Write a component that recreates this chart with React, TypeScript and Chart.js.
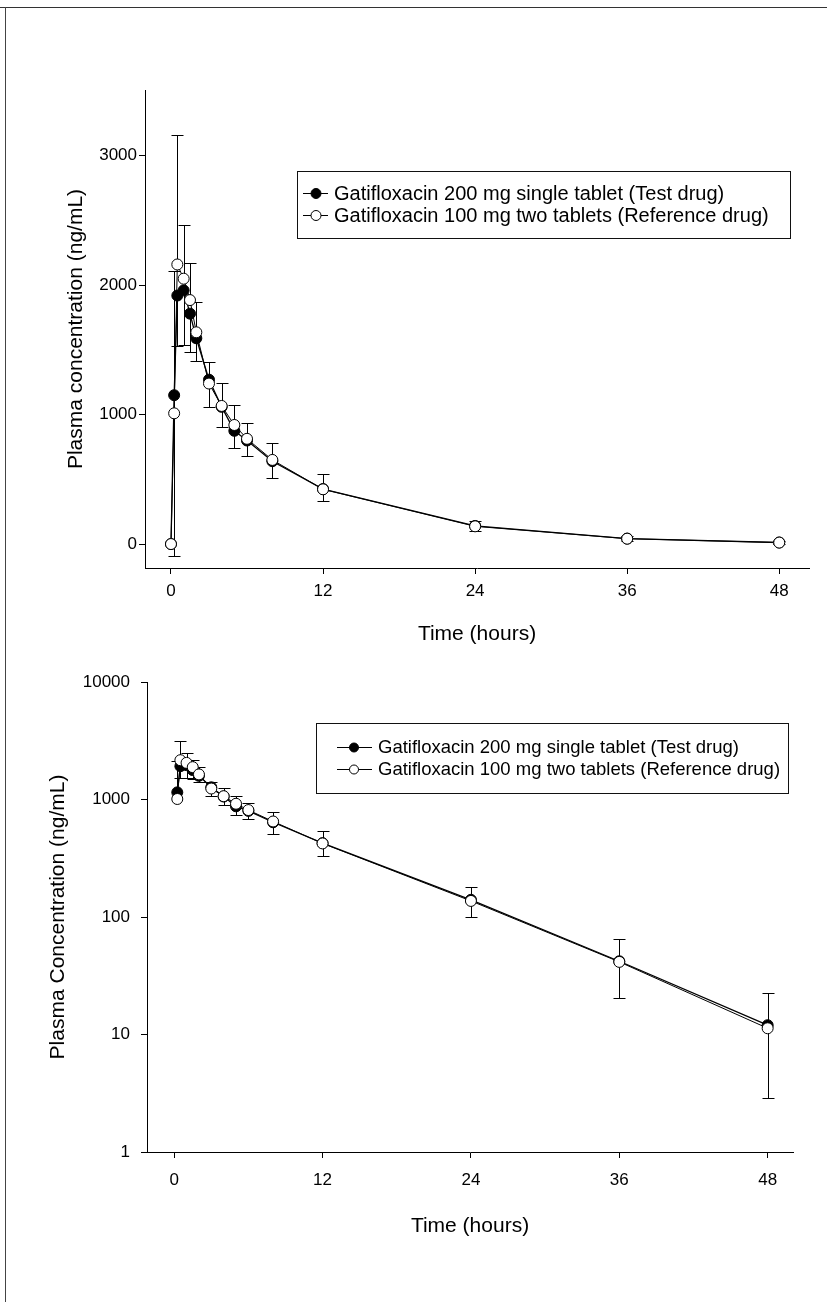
import React, { useEffect, useRef } from "react";
import { Chart, registerables } from "chart.js";

Chart.register(...registerables);

// ---------- data ----------
const times = [0, 0.25, 0.5, 1, 1.5, 2, 3, 4, 5, 6, 8, 12, 24, 36, 48];

const testMean = [0, 1150, 1920, 1960, 1780, 1590, 1270, 1060, 875, 800, 640, 425, 140, 42, 12];
const testErrUp = [0, 0, 0, 0, 0, 0, 0, 0, 0, 0, 0, 0, 0, 0, 0];
const testErrDown = [0, 0, 390, 424, 296, 173, 0, 0, 0, 0, 0, 0, 0, 0, 0];

const refMean = [0, 1010, 2160, 2050, 1885, 1636, 1240, 1067, 920, 813, 650, 423, 137, 41.5, 11.3];
const refErrUp = [0, 1100, 1000, 415, 290, 237, 165, 175, 155, 123, 128, 116, 43, 23, 11.3];
const refErrDown = [0, 1100, 0, 0, 0, 0, 178, 165, 177, 135, 139, 93, 37, 21, 8.4];

const xTicks = [0, 12, 24, 36, 48];
const yTicksLinear = [0, 1000, 2000, 3000];
const yTicksLog = [1, 10, 100, 1000, 10000];

const labelTest = "Gatifloxacin 200 mg single tablet (Test drug)";
const labelRef = "Gatifloxacin 100 mg two tablets (Reference drug)";

const FONT = "'Liberation Sans', Arial, Helvetica, sans-serif";

// ---------- plugins ----------
const errorBarPlugin = {
  id: "errorBars",
  beforeDatasetsDraw(chart: any) {
    const ctx = chart.ctx;
    const xs = chart.scales.x;
    const ys = chart.scales.y;
    const isLog = ys.type === "logarithmic";
    const cap = 6;
    ctx.save();
    ctx.strokeStyle = "#000";
    ctx.lineWidth = 1;
    chart.data.datasets.forEach((ds: any) => {
      const up = ds.errUp || [];
      const down = ds.errDown || [];
      ds.data.forEach((p: any, i: number) => {
        if (p.y == null) return;
        const px = Math.round(xs.getPixelForValue(p.x)) + 0.5;
        const py = ys.getPixelForValue(p.y);
        if (up[i] > 0) {
          const pu = Math.round(ys.getPixelForValue(p.y + up[i])) + 0.5;
          ctx.beginPath();
          ctx.moveTo(px, py);
          ctx.lineTo(px, pu);
          ctx.moveTo(px - cap, pu);
          ctx.lineTo(px + cap, pu);
          ctx.stroke();
        }
        if (down[i] > 0 && (!isLog || p.y - down[i] > 0)) {
          const pd = Math.round(ys.getPixelForValue(p.y - down[i])) + 0.5;
          ctx.beginPath();
          ctx.moveTo(px, py);
          ctx.lineTo(px, pd);
          ctx.moveTo(px - cap, pd);
          ctx.lineTo(px + cap, pd);
          ctx.stroke();
        }
      });
    });
    ctx.restore();
  },
};

const boxLegendPlugin = {
  id: "boxLegend",
  afterDraw(chart: any, _args: any, opts: any) {
    if (!opts || !opts.box) return;
    const ctx = chart.ctx;
    const b = opts.box;
    ctx.save();
    ctx.fillStyle = "#fff";
    ctx.fillRect(b.x, b.y, b.w, b.h);
    ctx.strokeStyle = "#111";
    ctx.lineWidth = 1;
    ctx.strokeRect(b.x + 0.5, b.y + 0.5, b.w, b.h);
    const order = opts.order as number[];
    order.forEach((di: number, row: number) => {
      const ds = chart.data.datasets[di];
      const y = opts.rowY[row] - b.y + b.y;
      ctx.strokeStyle = "#000";
      ctx.lineWidth = 1;
      ctx.beginPath();
      ctx.moveTo(opts.lineX1, y + 0.5);
      ctx.lineTo(opts.lineX2, y + 0.5);
      ctx.stroke();
      ctx.beginPath();
      ctx.arc(opts.markerX, y + 0.5, opts.markerR, 0, Math.PI * 2);
      ctx.fillStyle = ds.pointBackgroundColor;
      ctx.fill();
      ctx.stroke();
      ctx.fillStyle = "#000";
      ctx.font = `${opts.fontSize}px ${FONT}`;
      ctx.textAlign = "left";
      ctx.textBaseline = "middle";
      ctx.fillText(ds.label, opts.textX, y + 1);
    });
    ctx.restore();
  },
};

function makeDatasets(log: boolean) {
  const toPts = (arr: number[]) =>
    times.map((t, i) => ({ x: t, y: log && arr[i] <= 0 ? null : arr[i] }));
  return [
    {
      label: labelTest,
      data: toPts(testMean),
      errUp: testErrUp,
      errDown: testErrDown,
      borderColor: "#000",
      borderWidth: 1.3,
      pointRadius: 5.5,
      pointBackgroundColor: "#000",
      pointBorderColor: "#000",
      pointBorderWidth: 1,
      tension: 0,
      order: 2,
      spanGaps: true,
    },
    {
      label: labelRef,
      data: toPts(refMean),
      errUp: refErrUp,
      errDown: refErrDown,
      borderColor: "#000",
      borderWidth: 1,
      pointRadius: 5.5,
      pointBackgroundColor: "#fff",
      pointBorderColor: "#000",
      pointBorderWidth: 1,
      tension: 0,
      order: 1,
      spanGaps: true,
    },
  ];
}

function axisCommon() {
  return {
    grid: {
      display: true,
      drawOnChartArea: false,
      drawTicks: true,
      tickLength: 6,
      color: "#000",
      lineWidth: 1,
    },
    border: { display: true, color: "#000", width: 1 },
  };
}

interface Cfg {
  log: boolean;
  height: number;
  area: { left: number; right: number; top: number; bottom: number };
  xMin: number;
  xMax: number;
  yMin: number;
  yMax: number;
  yTitle: string;
  yTitleX: number;
  xLabelY: number;
  xTitleY: number;
  yLabelRight: number;
  legend: any;
}

function PKChart({ cfg }: { cfg: Cfg }) {
  const ref = useRef<HTMLCanvasElement | null>(null);
  useEffect(() => {
    if (!ref.current) return;
    const W = 827;
    const H = cfg.height;
    const a = cfg.area;
    const xAxisH = H - a.bottom;
    const tickFont = 17;
    const titleFont = 21;
    const titleLH = titleFont * 1.2;
    const tickLH = tickFont * 1.2;
    const chart = new Chart(ref.current, {
      type: "line",
      data: { datasets: makeDatasets(cfg.log) as any },
      options: {
        animation: false,
        responsive: false,
        maintainAspectRatio: false,
        layout: { padding: { top: a.top, right: W - a.right, left: 0, bottom: 0 } },
        plugins: {
          legend: { display: false },
          tooltip: { enabled: false },
          boxLegend: cfg.legend,
        } as any,
        scales: {
          x: {
            type: "linear",
            min: cfg.xMin,
            max: cfg.xMax,
            ...axisCommon(),
            afterBuildTicks: (s: any) => {
              s.ticks = xTicks.map((v) => ({ value: v }));
            },
            afterFit: (s: any) => {
              s.height = xAxisH;
            },
            ticks: {
              color: "#000",
              font: { family: FONT, size: tickFont },
              padding: cfg.xLabelY - a.bottom - 6 - tickLH / 2,
              maxRotation: 0,
              autoSkip: false,
              callback: (v: any) => String(v),
            },
            title: {
              display: true,
              text: "Time (hours)",
              color: "#000",
              font: { family: FONT, size: titleFont },
              padding: { top: 0, bottom: H - cfg.xTitleY - titleLH / 2 },
            },
          },
          y: {
            type: cfg.log ? "logarithmic" : "linear",
            min: cfg.yMin,
            max: cfg.yMax,
            ...axisCommon(),
            afterBuildTicks: (s: any) => {
              s.ticks = (cfg.log ? yTicksLog : yTicksLinear).map((v) => ({ value: v }));
            },
            afterFit: (s: any) => {
              s.width = a.left;
            },
            ticks: {
              color: "#000",
              font: { family: FONT, size: tickFont },
              padding: a.left - 6 - cfg.yLabelRight,
              autoSkip: false,
              callback: (v: any) => String(v),
            },
            title: {
              display: true,
              text: cfg.yTitle,
              color: "#000",
              font: { family: FONT, size: titleFont },
              padding: { top: cfg.yTitleX - titleLH / 2, bottom: 0 },
            },
          },
        },
      } as any,
      plugins: [errorBarPlugin, boxLegendPlugin],
    });
    return () => chart.destroy();
  }, [cfg]);
  return <canvas ref={ref} width={827} height={cfg.height} style={{ display: "block", width: 827, height: cfg.height }} />;
}

const topCfg: Cfg = {
  log: false,
  height: 660,
  area: { left: 145, right: 809, top: 90, bottom: 568 },
  xMin: -2.05,
  xMax: 50.35,
  yMin: -185,
  yMax: 3508,
  yTitle: "Plasma concentration (ng/mL)",
  yTitleX: 76,
  xLabelY: 591,
  xTitleY: 634,
  yLabelRight: 137,
  legend: {
    box: { x: 297, y: 171, w: 493, h: 67 },
    order: [0, 1],
    rowY: [193, 215],
    lineX1: 303,
    lineX2: 328,
    markerX: 316,
    markerR: 5,
    textX: 334,
    fontSize: 20,
  },
};

const bottomCfg: Cfg = {
  log: true,
  height: 642,
  area: { left: 147, right: 793, top: 22, bottom: 492 },
  xMin: -2.2,
  xMax: 50.05,
  yMin: 1,
  yMax: 10000,
  yTitle: "Plasma Concentration (ng/mL)",
  yTitleX: 58,
  xLabelY: 520,
  xTitleY: 566,
  yLabelRight: 130,
  legend: {
    box: { x: 316, y: 63, w: 472, h: 70 },
    order: [0, 1],
    rowY: [87, 109],
    lineX1: 337,
    lineX2: 372,
    markerX: 354,
    markerR: 4.5,
    textX: 378,
    fontSize: 18.5,
  },
};

export default function App() {
  return (
    <div
      style={{
        position: "absolute",
        left: 0,
        top: 0,
        width: 827,
        height: 1302,
        background: "#fff",
        overflow: "hidden",
      }}
    >
      <div style={{ position: "absolute", left: 0, top: 7, width: 827, height: 0, borderTop: "1px solid #333" }} />
      <div style={{ position: "absolute", left: 5, top: 7, width: 0, height: 1295, borderLeft: "1px solid #444" }} />
      <div style={{ position: "absolute", left: 0, top: 0 }}>
        <PKChart cfg={topCfg} />
      </div>
      <div style={{ position: "absolute", left: 0, top: 660 }}>
        <PKChart cfg={bottomCfg} />
      </div>
    </div>
  );
}
